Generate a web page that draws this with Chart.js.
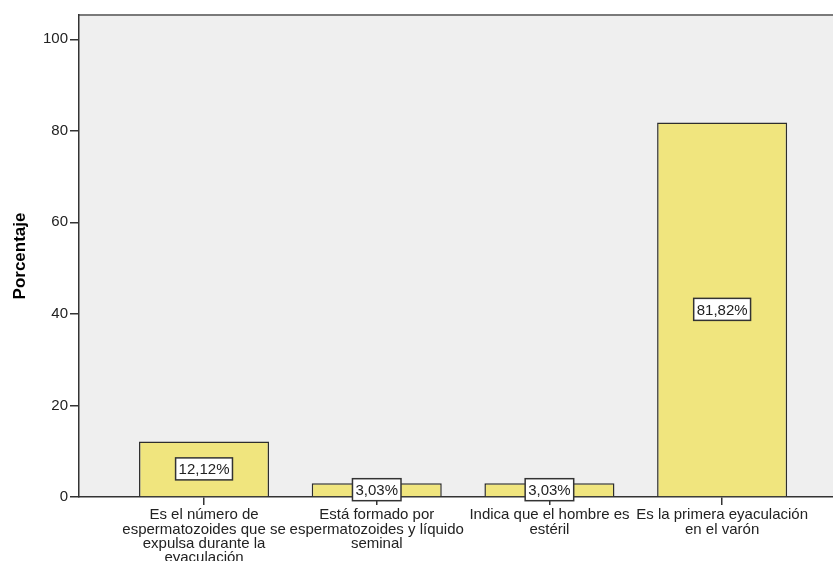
<!DOCTYPE html>
<html>
<head>
<meta charset="utf-8">
<script src="https://cdn.jsdelivr.net/npm/chart.js@4/dist/chart.umd.min.js"></script>
<style>
html,body{margin:0;padding:0;background:#fff;overflow:hidden;}
#wrap{width:833px;height:561px;}
</style>
</head>
<body>
<div id="wrap"><canvas id="c" width="833" height="561"></canvas></div>
<script>
const categories = [
  ["Es el número de", "espermatozoides que se", "expulsa durante la", "eyaculación"],
  ["Está formado por", "espermatozoides y líquido", "seminal"],
  ["Indica que el hombre es", "estéril"],
  ["Es la primera eyaculación", "en el varón"]
];
const percentages = [12.12, 3.03, 3.03, 81.82];
const valueLabels = ["12,12%", "3,03%", "3,03%", "81,82%"];
const yTicks = [0, 20, 40, 60, 80, 100];
const yTitle = "Porcentaje";

const FONT = "'Liberation Sans', Arial, sans-serif";

const bgPlugin = {
  id: 'bg',
  beforeDraw(chart) {
    const {ctx, chartArea: a} = chart;
    ctx.save();
    ctx.fillStyle = '#efefef';
    ctx.fillRect(a.left, a.top, a.right - a.left, a.bottom - a.top);
    ctx.strokeStyle = '#7a7a7a';
    ctx.lineWidth = 2;
    ctx.beginPath();
    ctx.moveTo(a.left, a.top);
    ctx.lineTo(a.right, a.top);
    ctx.stroke();
    ctx.restore();
  }
};

const labelPlugin = {
  id: 'vlabels',
  afterDatasetsDraw(chart) {
    const ctx = chart.ctx;
    const meta = chart.getDatasetMeta(0);
    ctx.save();
    ctx.font = '15px ' + FONT;
    ctx.textAlign = 'center';
    ctx.textBaseline = 'middle';
    meta.data.forEach((el, i) => {
      const txt = valueLabels[i];
      const x = el.x;
      const y = (el.y + el.base) / 2;
      const w = ctx.measureText(txt).width + 6;
      const h = 22;
      ctx.fillStyle = '#ffffff';
      ctx.fillRect(x - w / 2, y - h / 2, w, h);
      ctx.strokeStyle = '#333';
      ctx.lineWidth = 1.5;
      ctx.strokeRect(x - w / 2, y - h / 2, w, h);
      ctx.fillStyle = '#222';
      ctx.fillText(txt, x, y + 1);
    });
    ctx.restore();
  }
};

new Chart(document.getElementById('c'), {
  type: 'bar',
  data: {
    datasets: [{
      data: percentages.map((v, i) => ({ x: i, y: v })),
      backgroundColor: '#f0e57e',
      borderColor: '#2e2e2e',
      borderWidth: 1.5,
      barPercentage: 0.753,
      categoryPercentage: 1.0
    }]
  },
  options: {
    responsive: false,
    animation: false,
    devicePixelRatio: 1,
    layout: { padding: { top: 15, left: 0, right: 0, bottom: 0 } },
    plugins: { legend: { display: false }, tooltip: { enabled: false } },
    scales: {
      x: {
        type: 'linear',
        min: -0.724, max: 3.642,
        offset: false,
        afterBuildTicks(scale) { scale.ticks = categories.map((c, i) => ({ value: i })); },
        grid: { offset: false, drawOnChartArea: false, drawTicks: true, tickLength: 8, color: '#333', lineWidth: 1.5 },
        border: { display: true, color: '#333', width: 1.5 },
        ticks: {
          autoSkip: false, maxRotation: 0, minRotation: 0,
          color: '#222', padding: 3,
          font: { family: FONT, size: 15, lineHeight: 0.95 },
          callback: (v) => categories[Math.round(v)]
        },
        afterFit(scale) { scale.height = 64; }
      },
      y: {
        min: 0, max: 105.3,
        afterBuildTicks(scale) { scale.ticks = yTicks.map(v => ({ value: v })); },
        grid: { drawOnChartArea: false, drawTicks: true, tickLength: 9, color: '#333', lineWidth: 1.5 },
        border: { display: true, color: '#333', width: 1.5 },
        ticks: {
          color: '#222', padding: 2,
          font: { family: FONT, size: 15 },
          callback: (v) => String(v)
        },
        title: {
          display: true, text: yTitle, color: '#000',
          font: { family: FONT, size: 17, weight: 'bold' },
          padding: { top: 10, bottom: 0 }
        },
        afterFit(scale) { scale.width = 79; }
      }
    }
  },
  plugins: [bgPlugin, labelPlugin]
});
</script>
</body>
</html>
